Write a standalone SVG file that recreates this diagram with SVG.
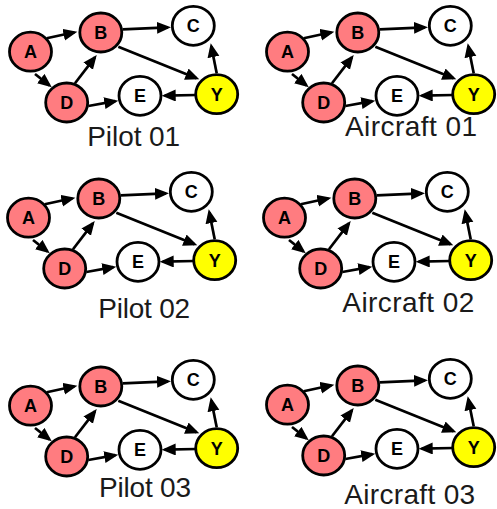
<svg xmlns="http://www.w3.org/2000/svg" width="497" height="509" viewBox="0 0 497 509">
<defs>
<style>
.n ellipse{stroke:#000;stroke-width:2.8}
.red ellipse{fill:#ff7c80}
.wht ellipse{fill:#fff}
.yel ellipse{fill:#ffff00}
.n text{font-family:"Liberation Sans",Arial,sans-serif;font-weight:bold;font-size:18px;text-anchor:middle;fill:#000}
.e path{fill:none;stroke:#000;stroke-width:2.7;marker-end:url(#ah)}
.lbl{font-family:"Liberation Sans",Arial,sans-serif;font-size:28px;text-anchor:middle;fill:#1a1a1a}
</style>
<marker id="ah" markerUnits="userSpaceOnUse" markerWidth="15" markerHeight="13" refX="11" refY="6" orient="auto">
<path d="M0,0 L14,6 L0,12 Z" fill="#000"/>
</marker>
</defs>
<rect width="497" height="509" fill="#fff"/>

<g id="pilot01">
<g id="p1-edges" class="e">
<path d="M46.7,38.3 L74.4,32.3"/>
<path d="M35,74 L49.4,85.4"/>
<path d="M75,83.3 L94.9,57.4"/>
<path d="M122.7,29.3 L168,27.4"/>
<path d="M118.3,46.7 L196.5,78.2"/>
<path d="M88.3,106 L115.3,101.2"/>
<path d="M196.7,95 L164.7,95.6"/>
<path d="M216.7,73.3 L211.3,46.2"/>
</g>
<g id="p1-A" class="n red"><ellipse cx="30.5" cy="51.7" rx="21" ry="19.5"/><text x="30.5" y="58">A</text></g>
<g id="p1-B" class="n red"><ellipse cx="100.8" cy="32.5" rx="21" ry="19.5"/><text x="100.8" y="38.8">B</text></g>
<g id="p1-C" class="n wht"><ellipse cx="193.3" cy="25.8" rx="21" ry="19.5"/><text x="193.3" y="32.1">C</text></g>
<g id="p1-D" class="n red"><ellipse cx="66.7" cy="102.5" rx="21" ry="19.5"/><text x="66.7" y="108.8">D</text></g>
<g id="p1-E" class="n wht"><ellipse cx="140" cy="95.8" rx="21" ry="19.5"/><text x="140" y="102.1">E</text></g>
<g id="p1-Y" class="n yel"><ellipse cx="216.7" cy="94.2" rx="21" ry="19.5"/><text x="216.7" y="100.5">Y</text></g>
<text class="lbl" x="133.7" y="145.5" textLength="93">Pilot 01</text>
</g>

<g id="aircraft01" transform="translate(257,0)">
<g id="a1-edges" class="e">
<path d="M46.7,38.3 L74.4,32.3"/>
<path d="M35,74 L49.4,85.4"/>
<path d="M75,83.3 L94.9,57.4"/>
<path d="M122.7,29.3 L168,27.4"/>
<path d="M118.3,46.7 L196.5,78.2"/>
<path d="M88.3,106 L115.3,101.2"/>
<path d="M196.7,95 L164.7,95.6"/>
<path d="M216.7,73.3 L211.3,46.2"/>
</g>
<g id="a1-A" class="n red"><ellipse cx="30.5" cy="51.7" rx="21" ry="19.5"/><text x="30.5" y="58">A</text></g>
<g id="a1-B" class="n red"><ellipse cx="100.8" cy="32.5" rx="21" ry="19.5"/><text x="100.8" y="38.8">B</text></g>
<g id="a1-C" class="n wht"><ellipse cx="193.3" cy="25.8" rx="21" ry="19.5"/><text x="193.3" y="32.1">C</text></g>
<g id="a1-D" class="n red"><ellipse cx="66.7" cy="102.5" rx="21" ry="19.5"/><text x="66.7" y="108.8">D</text></g>
<g id="a1-E" class="n wht"><ellipse cx="140" cy="95.8" rx="21" ry="19.5"/><text x="140" y="102.1">E</text></g>
<g id="a1-Y" class="n yel"><ellipse cx="216.7" cy="94.2" rx="21" ry="19.5"/><text x="216.7" y="100.5">Y</text></g>
</g>
<text class="lbl" x="411" y="136" textLength="132">Aircraft 01</text>

<g id="pilot02" transform="translate(-2,166)">
<g id="p2-edges" class="e">
<path d="M46.7,38.3 L74.4,32.3"/>
<path d="M35,74 L49.4,85.4"/>
<path d="M75,83.3 L94.9,57.4"/>
<path d="M122.7,29.3 L168,27.4"/>
<path d="M118.3,46.7 L196.5,78.2"/>
<path d="M88.3,106 L115.3,101.2"/>
<path d="M196.7,95 L164.7,95.6"/>
<path d="M216.7,73.3 L211.3,46.2"/>
</g>
<g id="p2-A" class="n red"><ellipse cx="30.5" cy="51.7" rx="21" ry="19.5"/><text x="30.5" y="58">A</text></g>
<g id="p2-B" class="n red"><ellipse cx="100.8" cy="32.5" rx="21" ry="19.5"/><text x="100.8" y="38.8">B</text></g>
<g id="p2-C" class="n wht"><ellipse cx="193.3" cy="25.8" rx="21" ry="19.5"/><text x="193.3" y="32.1">C</text></g>
<g id="p2-D" class="n red"><ellipse cx="66.7" cy="102.5" rx="21" ry="19.5"/><text x="66.7" y="108.8">D</text></g>
<g id="p2-E" class="n wht"><ellipse cx="140" cy="95.8" rx="21" ry="19.5"/><text x="140" y="102.1">E</text></g>
<g id="p2-Y" class="n yel"><ellipse cx="216.7" cy="94.2" rx="21" ry="19.5"/><text x="216.7" y="100.5">Y</text></g>
</g>
<text class="lbl" x="144.2" y="318.3" textLength="92">Pilot 02</text>

<g id="aircraft02" transform="translate(254,166)">
<g id="a2-edges" class="e">
<path d="M46.7,38.3 L74.4,32.3"/>
<path d="M35,74 L49.4,85.4"/>
<path d="M75,83.3 L94.9,57.4"/>
<path d="M122.7,29.3 L168,27.4"/>
<path d="M118.3,46.7 L196.5,78.2"/>
<path d="M88.3,106 L115.3,101.2"/>
<path d="M196.7,95 L164.7,95.6"/>
<path d="M216.7,73.3 L211.3,46.2"/>
</g>
<g id="a2-A" class="n red"><ellipse cx="30.5" cy="51.7" rx="21" ry="19.5"/><text x="30.5" y="58">A</text></g>
<g id="a2-B" class="n red"><ellipse cx="100.8" cy="32.5" rx="21" ry="19.5"/><text x="100.8" y="38.8">B</text></g>
<g id="a2-C" class="n wht"><ellipse cx="193.3" cy="25.8" rx="21" ry="19.5"/><text x="193.3" y="32.1">C</text></g>
<g id="a2-D" class="n red"><ellipse cx="66.7" cy="102.5" rx="21" ry="19.5"/><text x="66.7" y="108.8">D</text></g>
<g id="a2-E" class="n wht"><ellipse cx="140" cy="95.8" rx="21" ry="19.5"/><text x="140" y="102.1">E</text></g>
<g id="a2-Y" class="n yel"><ellipse cx="216.7" cy="94.2" rx="21" ry="19.5"/><text x="216.7" y="100.5">Y</text></g>
</g>
<text class="lbl" x="408.3" y="311.7" textLength="132">Aircraft 02</text>

<g id="pilot03" transform="translate(0,354)">
<g id="p3-edges" class="e">
<path d="M46.7,38.3 L74.4,32.3"/>
<path d="M35,74 L49.4,85.4"/>
<path d="M75,83.3 L94.9,57.4"/>
<path d="M122.7,29.3 L168,27.4"/>
<path d="M118.3,46.7 L196.5,78.2"/>
<path d="M88.3,106 L115.3,101.2"/>
<path d="M196.7,95 L164.7,95.6"/>
<path d="M216.7,73.3 L211.3,46.2"/>
</g>
<g id="p3-A" class="n red"><ellipse cx="30.5" cy="51.7" rx="21" ry="19.5"/><text x="30.5" y="58">A</text></g>
<g id="p3-B" class="n red"><ellipse cx="100.8" cy="32.5" rx="21" ry="19.5"/><text x="100.8" y="38.8">B</text></g>
<g id="p3-C" class="n wht"><ellipse cx="193.3" cy="25.8" rx="21" ry="19.5"/><text x="193.3" y="32.1">C</text></g>
<g id="p3-D" class="n red"><ellipse cx="66.7" cy="102.5" rx="21" ry="19.5"/><text x="66.7" y="108.8">D</text></g>
<g id="p3-E" class="n wht"><ellipse cx="140" cy="95.8" rx="21" ry="19.5"/><text x="140" y="102.1">E</text></g>
<g id="p3-Y" class="n yel"><ellipse cx="216.7" cy="94.2" rx="21" ry="19.5"/><text x="216.7" y="100.5">Y</text></g>
</g>
<text class="lbl" x="145" y="496.7" textLength="92">Pilot 03</text>

<g id="aircraft03" transform="translate(257,353)">
<g id="a3-edges" class="e">
<path d="M46.7,38.3 L74.4,32.3"/>
<path d="M35,74 L49.4,85.4"/>
<path d="M75,83.3 L94.9,57.4"/>
<path d="M122.7,29.3 L168,27.4"/>
<path d="M118.3,46.7 L196.5,78.2"/>
<path d="M88.3,106 L115.3,101.2"/>
<path d="M196.7,95 L164.7,95.6"/>
<path d="M216.7,73.3 L211.3,46.2"/>
</g>
<g id="a3-A" class="n red"><ellipse cx="30.5" cy="51.7" rx="21" ry="19.5"/><text x="30.5" y="58">A</text></g>
<g id="a3-B" class="n red"><ellipse cx="100.8" cy="32.5" rx="21" ry="19.5"/><text x="100.8" y="38.8">B</text></g>
<g id="a3-C" class="n wht"><ellipse cx="193.3" cy="25.8" rx="21" ry="19.5"/><text x="193.3" y="32.1">C</text></g>
<g id="a3-D" class="n red"><ellipse cx="66.7" cy="102.5" rx="21" ry="19.5"/><text x="66.7" y="108.8">D</text></g>
<g id="a3-E" class="n wht"><ellipse cx="140" cy="95.8" rx="21" ry="19.5"/><text x="140" y="102.1">E</text></g>
<g id="a3-Y" class="n yel"><ellipse cx="216.7" cy="94.2" rx="21" ry="19.5"/><text x="216.7" y="100.5">Y</text></g>
</g>
<text class="lbl" x="409.7" y="503.5" textLength="131">Aircraft 03</text>
</svg>
